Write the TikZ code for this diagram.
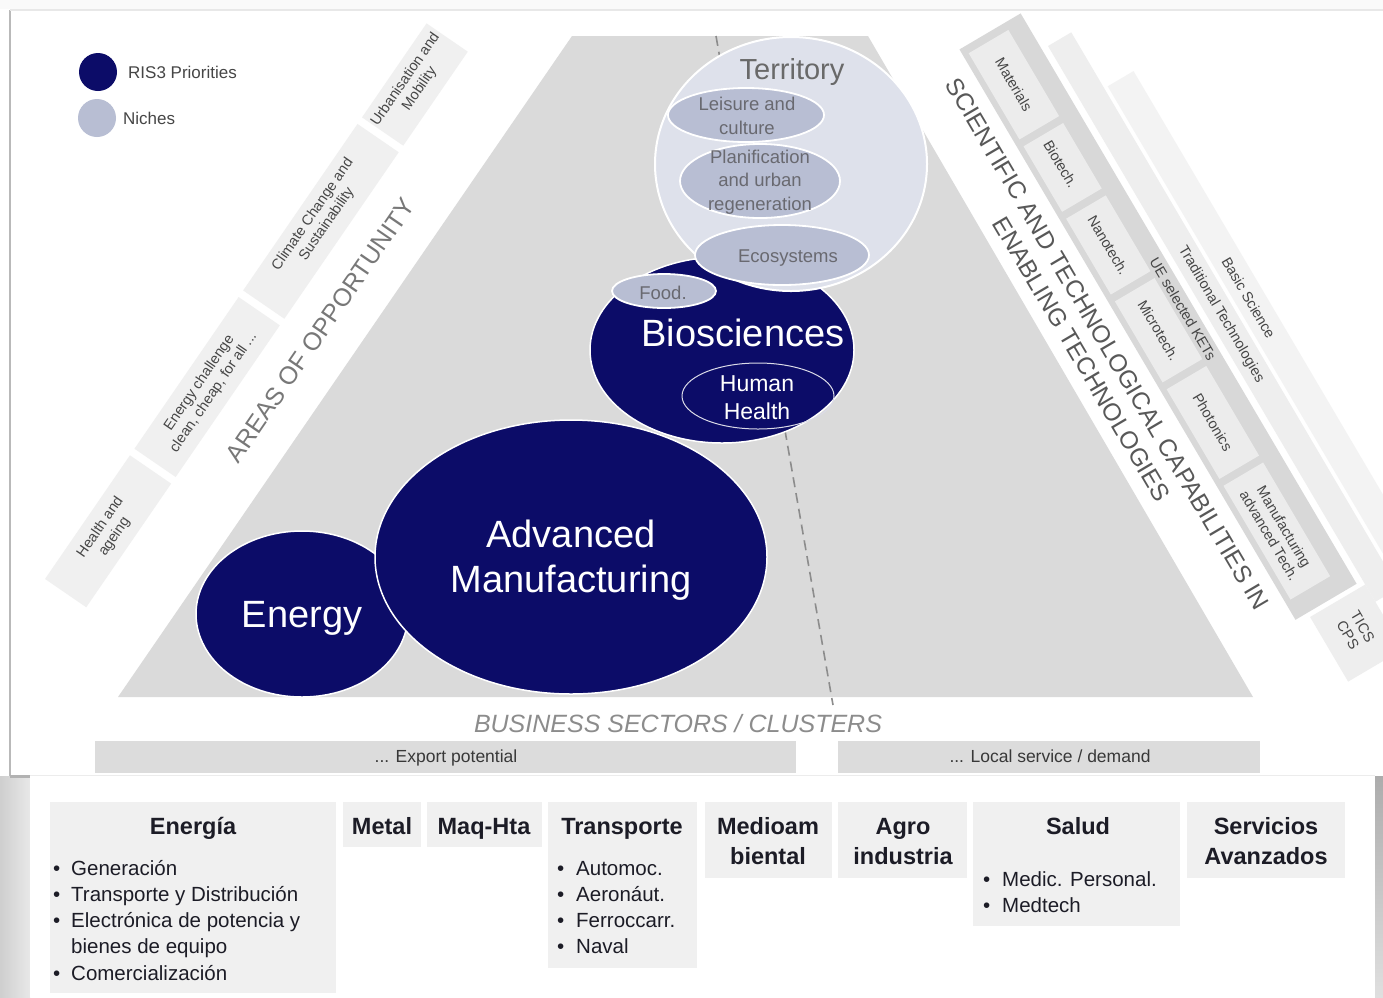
\documentclass[tikz,border=0pt]{standalone}
\usepackage{fontspec}
\setmainfont{Liberation Sans}
\usetikzlibrary{shapes.geometric}
\definecolor{navyc}{RGB}{12,12,104}
\definecolor{nichec}{RGB}{184,190,211}
\definecolor{nichetxt}{RGB}{105,105,112}
\definecolor{terrc}{RGB}{222,225,235}
\definecolor{trapc}{RGB}{218,218,218}
\definecolor{stripc}{RGB}{240,240,240}
\definecolor{bandc}{RGB}{216,216,216}
\definecolor{bandl}{RGB}{238,238,238}
\definecolor{boxc}{RGB}{236,236,236}
\definecolor{cellc}{RGB}{240,240,240}
\definecolor{barc}{RGB}{220,220,220}
\definecolor{txtc}{RGB}{28,28,38}
\definecolor{graytxt}{RGB}{70,70,70}
\definecolor{areac}{RGB}{120,120,120}
\definecolor{scic}{RGB}{88,88,88}
\definecolor{busc}{RGB}{140,140,140}
\definecolor{dashc}{RGB}{140,140,140}
\definecolor{terrtxt}{RGB}{105,105,105}
\newcommand{\mysz}[2]{\fontsize{#1}{#2}\selectfont}
\begin{document}
\begin{tikzpicture}[x=1pt,y=1pt,
  navybub/.style={ellipse, fill=navyc, draw=white, line width=1.5pt, inner sep=0pt, outer sep=0pt},
  nichebub/.style={ellipse, fill=nichec, draw=white, line width=1.8pt, inner sep=0pt, outer sep=0pt},
  bigw/.style={text=white, align=center, inner sep=0pt, font=\mysz{38}{45}},
  nichet/.style={text=nichetxt, align=center, inner sep=0pt, font=\mysz{18.5}{23.5}},
  legt/.style={text=graytxt, inner sep=0pt, font=\mysz{17}{20}},
  stript/.style={text=graytxt, align=center, inner sep=0pt, font=\mysz{14.5}{17}},
  areat/.style={text=areac, inner sep=0pt, font=\mysz{25}{30}},
  rtxt/.style={text=graytxt, align=center, inner sep=0pt, font=\mysz{14.5}{17}},
  scit/.style={text=scic, align=center, inner sep=0pt, font=\mysz{24.5}{30}},
  cell/.style={fill=cellc, anchor=north west, inner sep=0pt, outer sep=0pt},
  ttl/.style={text=txtc, anchor=base, inner sep=0pt, font=\mysz{23.5}{28}\bfseries},
  itm/.style={text=txtc, anchor=base west, inner sep=0pt, font=\mysz{20.5}{26}},
  bart/.style={text=graytxt!80!black, inner sep=0pt, font=\mysz{17.5}{20}},
  dashline/.style={draw=dashc, line width=1.6pt, dash pattern=on 10pt off 6pt}
]
\useasboundingbox (0,0) rectangle (1383,-997);
\clip (0,0) rectangle (1383,-997);
% page background and frames
\fill[white] (0,0) rectangle (1383,-997);
\fill[gray!4] (0,0) rectangle (1383,-9);
\shade[left color=gray!38, right color=gray!18] (0,-776) rectangle (30,-997);
\shade[top color=gray!65, bottom color=gray!25] (1375,-776) rectangle (1383,-997);
\draw[gray!55, line width=1.6pt] (10,-776) -- (10,-10);
\draw[gray!18, line width=1.6pt] (10,-10) -- (1383,-10);
\draw[gray!60, line width=3pt] (10,-776) -- (32,-776);

% trapezoid
\fill[trapc] (118,-697) -- (572,-36) -- (868,-36) -- (1253,-697) -- cycle;

% left strips
\begin{scope}[shift={(118,-697)}, rotate=55.52, transform shape]
  \fill[stripc] (56,77) rectangle (206,127);
  \fill[stripc] (214,77) rectangle (398,127);
  \fill[stripc] (406,77) rectangle (608,127);
  \fill[stripc] (616,77) rectangle (730,127);
  \node[stript] (sHealth) at (130,102) {Health and\\ageing};
  \node[stript] (sEnergy) at (305,102) {Energy challenge\\clean, cheap, for all ...};
  \node[stript] (sClimate) at (508,104) {Climate Change and\\Sustainability};
  \node[stript] (sUrban) at (672,104) {Urbanisation and\\Mobility};
  \node[areat] (areas) at (417,41) {AREAS OF OPPORTUNITY};
\end{scope}

% right bands
\begin{scope}[shift={(868,-36)}, rotate=-59.5, transform shape]
  \fill[bandl!70!white] (165,181) rectangle (720,211);
  \fill[bandl] (100,150) rectangle (745,177);
  \fill[bandc] (58,72) rectangle (720,143);
  \fill[boxc] (66,78) rectangle (166,124);
  \fill[boxc] (174,78) rectangle (250,124);
  \fill[boxc] (258,78) rectangle (346,124);
  \fill[boxc] (354,78) rectangle (448,124);
  \fill[boxc] (456,78) rectangle (560,124);
  \fill[boxc] (568,78) rectangle (700,124);
  \fill[bandl] (725,86) rectangle (800,150);
  \node[rtxt] (kMat) at (116,101) {Materials};
  \node[rtxt] (kBio) at (208,101) {Biotech.};
  \node[rtxt] (kNano) at (302,101) {Nanotech.};
  \node[rtxt] (kMicro) at (401,101) {Microtech.};
  \node[rtxt] (kPhot) at (508,101) {Photonics};
  \node[rtxt] (kManu) at (634,101) {Manufacturing\\advanced Tech.};
  \node[rtxt] (kUE) at (395,133) {UE selected KETs};
  \node[rtxt] (kTrad) at (419,163) {Traditional Technologies};
  \node[rtxt] (kBasic) at (419,195) {Basic Science};
  \node[rtxt] (kTics) at (760,118) {TICS\\CPS};
  \node[scit] (sci) at (387,35) {SCIENTIFIC AND TECHNOLOGICAL CAPABILITIES IN\\ENABLING TECHNOLOGIES};
\end{scope}

% dashed divider
\coordinate (dtop) at (716,-36);
\coordinate (dbot) at (833,-705);
\draw[dashline] (dtop) -- (dbot);

% priority bubbles
\node[navybub, minimum width=212pt, minimum height=166pt] (energy) at (302,-614) {};
\node[bigw] (energyt) at (302,-618) {Energy};
\node[navybub, minimum width=392pt, minimum height=274pt] (am) at (571,-557) {};
\node[bigw] (amt) at (571,-560) {Advanced\\Manufacturing};
\node[navybub, minimum width=264pt, minimum height=186pt] (bio) at (722,-350) {};
\node[bigw] (biot) at (743,-333) {Biosciences};
\node[ellipse, draw=white!85!navyc, line width=1pt, minimum width=152pt, minimum height=66pt, inner sep=0pt] (hh) at (758,-396) {};
\node[text=white, align=center, inner sep=0pt, font=\mysz{23}{28}] (hht) at (757,-398) {Human\\Health};
\node[nichebub, minimum width=104pt, minimum height=34pt] (food) at (664,-291) {};
\node[nichet] (foodt) at (663,-293) {Food.};

% territory
\node[ellipse, fill=terrc, draw=white, line width=2pt, minimum width=272pt, minimum height=254pt, inner sep=0pt] (terr) at (791,-164) {};
\node[text=terrtxt, inner sep=0pt, font=\mysz{29}{34}] (terrt) at (792,-72) {Territory};
\node[nichebub, minimum width=156pt, minimum height=54pt] (leis) at (746,-115) {};
\node[nichet] (leist) at (747,-116) {Leisure and\\culture};
\node[nichebub, minimum width=160pt, minimum height=74pt] (plan) at (760,-181) {};
\node[nichet] (plant) at (760,-182) {Planification\\and urban\\regeneration};
\node[nichebub, minimum width=174pt, minimum height=60pt] (eco) at (782,-255) {};
\node[nichet] (ecot) at (788,-258) {Ecosystems};

% legend
\node[circle, fill=navyc, minimum size=38pt, inner sep=0pt] (lgA) at (98,-72) {};
\node[circle, fill=nichec, minimum size=38pt, inner sep=0pt] (lgB) at (97,-118) {};
\node[legt, anchor=west] (lgAt) at (128,-72) {RIS3 Priorities};
\node[legt, anchor=west] (lgBt) at (123,-118) {Niches};

% business sectors
\node[text=busc, inner sep=0pt, font=\mysz{25}{30}\itshape] (bus) at (678,-724) {BUSINESS SECTORS / CLUSTERS};
\node[fill=barc, anchor=north west, minimum width=701pt, minimum height=32pt, inner sep=0pt] (exbar) at (95,-741) {};
\node[bart] (ext) at (446,-758) {... Export potential};
\node[fill=barc, anchor=north west, minimum width=422pt, minimum height=32pt, inner sep=0pt] (lobar) at (838,-741) {};
\node[bart] (lot) at (1050,-756) {... Local service / demand};

% lower panel
\fill[white] (30,-775) rectangle (1375,-997);
\draw[gray!15, line width=0.8pt] (30,-775) -- (1375,-775);

% cells
\node[cell, minimum width=286pt, minimum height=191pt] (cEn) at (50,-802) {};
\node[cell, minimum width=78pt, minimum height=45pt] (cMe) at (343,-802) {};
\node[cell, minimum width=115pt, minimum height=45pt] (cMq) at (427,-802) {};
\node[cell, minimum width=149pt, minimum height=166pt] (cTr) at (548,-802) {};
\node[cell, minimum width=127pt, minimum height=76pt] (cMa) at (705,-802) {};
\node[cell, minimum width=129pt, minimum height=76pt] (cAg) at (838,-802) {};
\node[cell, minimum width=207pt, minimum height=124pt] (cSa) at (973,-802) {};
\node[cell, minimum width=158pt, minimum height=76pt] (cSe) at (1187,-802) {};

\node[ttl] (tEn) at (193,-834) {Energía};
\node[ttl] (tMe) at (382,-834) {Metal};
\node[ttl] (tMq) at (484,-834) {Maq-Hta};
\node[ttl] (tTr) at (622,-834) {Transporte};
\node[ttl] (tMa1) at (768,-834) {Medioam};
\node[ttl] (tMa2) at (768,-864) {biental};
\node[ttl] (tAg1) at (903,-834) {Agro};
\node[ttl] (tAg2) at (903,-864) {industria};
\node[ttl] (tSa) at (1078,-834) {Salud};
\node[ttl] (tSe1) at (1266,-834) {Servicios};
\node[ttl] (tSe2) at (1266,-864) {Avanzados};

\node[itm] (eb1) at (53,-875) {•};
\node[itm] (et1) at (71,-875) {Generación};
\node[itm] (eb2) at (53,-901) {•};
\node[itm] (et2) at (71,-901) {Transporte y Distribución};
\node[itm] (eb3) at (53,-927) {•};
\node[itm] (et3) at (71,-927) {Electrónica de potencia y};
\node[itm] (et4) at (71,-953) {bienes de equipo};
\node[itm] (eb5) at (53,-980) {•};
\node[itm] (et5) at (71,-980) {Comercialización};

\node[itm] (rb1) at (557,-875) {•};
\node[itm] (rt1) at (576,-875) {Automoc.};
\node[itm] (rb2) at (557,-901) {•};
\node[itm] (rt2) at (576,-901) {Aeronáut.};
\node[itm] (rb3) at (557,-927) {•};
\node[itm] (rt3) at (576,-927) {Ferroccarr.};
\node[itm] (rb4) at (557,-953) {•};
\node[itm] (rt4) at (576,-953) {Naval};

\node[itm] (sb1) at (983,-886) {•};
\node[itm] (st1) at (1002,-886) {Medic. Personal.};
\node[itm] (sb2) at (983,-912) {•};
\node[itm] (st2) at (1002,-912) {Medtech};
\end{tikzpicture}
\end{document}
